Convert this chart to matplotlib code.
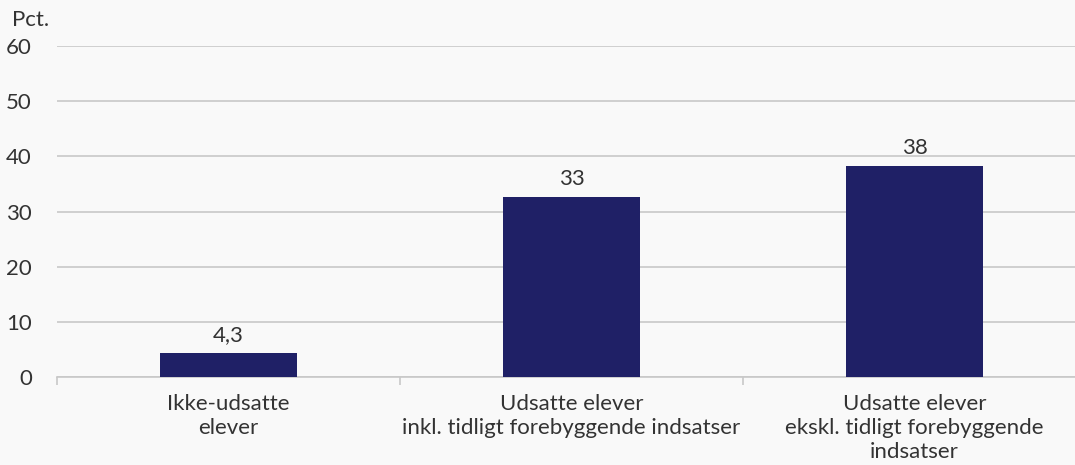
import matplotlib.pyplot as plt
import numpy as np

categories = ["Ikke-udsatte\nelever",
              "Udsatte elever\ninkl. tidligt forebyggende indsatser",
              "Udsatte elever\nekskl. tidligt forebyggende\nindsatser"]
values = [4.3, 32.6, 38.3]
value_labels = ["4,3", "33", "38"]
yticks = [0, 10, 20, 30, 40, 50, 60]

bar_color = "#1f2066"
text_color = "#333333"
grid_color = "#c8c8c8"
bg = "#f9f9f9"

plt.rcParams['font.family'] = ['Lato', 'DejaVu Sans']

fig = plt.figure(figsize=(10.75, 4.65), dpi=100, facecolor=bg)
ax = fig.add_axes([57/1075, 88/465, 1029/1075, 331/465], facecolor=bg)

x = np.arange(len(categories))
ax.bar(x, values, width=0.4, color=bar_color, zorder=3)

for xi, v, lab in zip(x, values, value_labels):
	ax.text(xi, v + 1.4, lab, ha='center', va='bottom', fontsize=16, color=text_color)

ax.set_xlim(-0.5, 2.5)
ax.set_ylim(0, 60)
ax.set_yticks(yticks)
ax.set_yticklabels([str(t) for t in yticks], fontsize=16, color=text_color)
ax.yaxis.grid(True, color=grid_color, linewidth=1.2, zorder=0)
ax.tick_params(axis='y', length=0, pad=18)

ax.set_xticks(x)
ax.set_xticklabels(categories, fontsize=16, color=text_color, linespacing=1.25)
ax.tick_params(axis='x', which='major', length=0, pad=12)
ax.set_xticks([-0.5, 0.5, 1.5, 2.5], minor=True)
ax.tick_params(axis='x', which='minor', length=6, color=grid_color, width=1.2)

for s in ['top', 'right', 'left']:
	ax.spines[s].set_visible(False)
ax.spines['bottom'].set_color(grid_color)
ax.spines['bottom'].set_linewidth(1.2)

fig.text(12/1075, 1 - 20/465, "Pct.", fontsize=16, color=text_color, va='center', ha='left')

fig.savefig("out.png", dpi=100, facecolor=bg)
